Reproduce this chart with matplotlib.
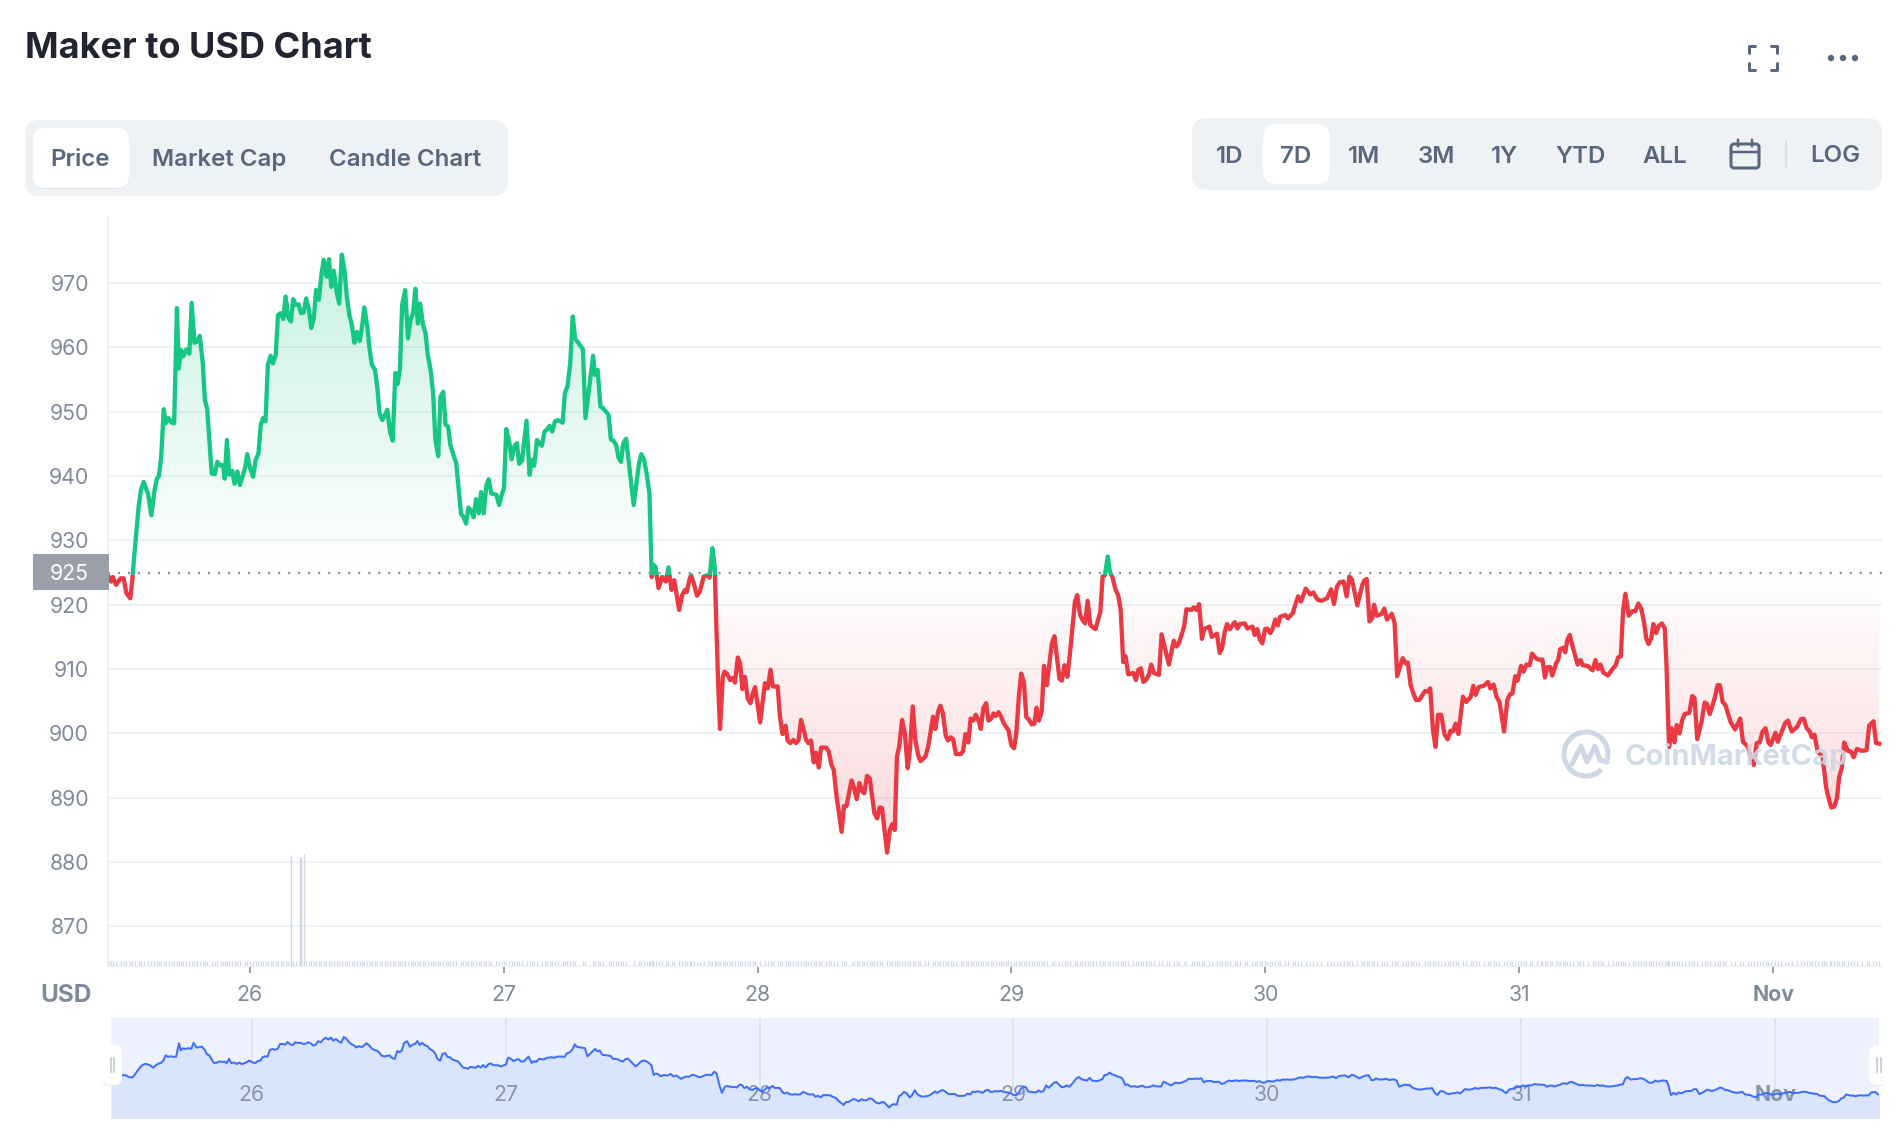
import numpy as np
import matplotlib
matplotlib.use("Agg")
import matplotlib.pyplot as plt
from matplotlib.patches import FancyBboxPatch, Rectangle, Arc, Circle
from matplotlib.colors import LinearSegmentedColormap

plt.rcParams['font.family'] = ['Inter', 'DejaVu Sans']

# day of month (32 = 1 Nov), price in USD
price_days = [
    25.446, 25.454, 25.461, 25.473, 25.491, 25.503, 25.514, 25.529, 25.536, 25.548, 25.562, 25.571, 25.582, 25.600, 25.612, 25.624,
    25.634, 25.642, 25.651, 25.661, 25.669, 25.680, 25.692, 25.702, 25.713, 25.720, 25.729, 25.738, 25.750, 25.762, 25.771, 25.782,
    25.793, 25.803, 25.815, 25.823, 25.832, 25.850, 25.862, 25.872, 25.886, 25.895, 25.901, 25.910, 25.919, 25.931, 25.940, 25.951,
    25.961, 25.981, 25.990, 26.001, 26.013, 26.023, 26.034, 26.043, 26.052, 26.062, 26.071, 26.082, 26.091, 26.102, 26.111, 26.121,
    26.132, 26.141, 26.151, 26.162, 26.171, 26.181, 26.192, 26.202, 26.212, 26.222, 26.233, 26.242, 26.252, 26.261, 26.272, 26.281,
    26.291, 26.302, 26.312, 26.321, 26.331, 26.343, 26.352, 26.362, 26.373, 26.382, 26.392, 26.401, 26.412, 26.422, 26.433, 26.442,
    26.451, 26.463, 26.472, 26.481, 26.493, 26.502, 26.511, 26.522, 26.532, 26.542, 26.552, 26.563, 26.573, 26.582, 26.591, 26.600,
    26.612, 26.623, 26.633, 26.643, 26.652, 26.662, 26.671, 26.682, 26.692, 26.701, 26.712, 26.722, 26.731, 26.742, 26.751, 26.762,
    26.771, 26.781, 26.790, 26.802, 26.813, 26.832, 26.841, 26.852, 26.861, 26.872, 26.881, 26.891, 26.902, 26.911, 26.921, 26.932,
    26.941, 26.951, 26.971, 26.982, 26.992, 27.001, 27.010, 27.022, 27.031, 27.042, 27.052, 27.061, 27.072, 27.090, 27.102, 27.111,
    27.120, 27.131, 27.150, 27.161, 27.170, 27.181, 27.191, 27.202, 27.212, 27.232, 27.241, 27.251, 27.262, 27.272, 27.281, 27.312,
    27.322, 27.352, 27.360, 27.370, 27.381, 27.393, 27.413, 27.422, 27.432, 27.443, 27.452, 27.462, 27.471, 27.482, 27.512, 27.533,
    27.542, 27.553, 27.563, 27.574, 27.578, 27.583, 27.589, 27.598, 27.610, 27.624, 27.639, 27.649, 27.661, 27.672, 27.691, 27.703,
    27.714, 27.721, 27.733, 27.738, 27.749, 27.761, 27.772, 27.788, 27.803, 27.811, 27.822, 27.831, 27.838, 27.845, 27.852, 27.863,
    27.870, 27.881, 27.892, 27.901, 27.911, 27.922, 27.931, 27.940, 27.950, 27.961, 27.972, 27.981, 27.990, 28.010, 28.029, 28.040,
    28.051, 28.060, 28.079, 28.088, 28.098, 28.110, 28.118, 28.129, 28.141, 28.151, 28.161, 28.171, 28.182, 28.191, 28.200, 28.210,
    28.221, 28.230, 28.241, 28.250, 28.270, 28.280, 28.291, 28.300, 28.311, 28.331, 28.340, 28.350, 28.370, 28.379, 28.390, 28.401,
    28.412, 28.420, 28.431, 28.442, 28.451, 28.460, 28.471, 28.481, 28.490, 28.510, 28.521, 28.530, 28.540, 28.549, 28.558, 28.569,
    28.580, 28.591, 28.600, 28.611, 28.621, 28.632, 28.641, 28.661, 28.672, 28.691, 28.700, 28.711, 28.720, 28.730, 28.741, 28.750,
    28.761, 28.770, 28.781, 28.800, 28.809, 28.819, 28.830, 28.839, 28.850, 28.859, 28.870, 28.879, 28.889, 28.900, 28.909, 28.920,
    28.929, 28.938, 28.949, 28.959, 28.968, 28.979, 28.988, 28.999, 29.010, 29.019, 29.029, 29.038, 29.049, 29.058, 29.069, 29.080,
    29.090, 29.099, 29.108, 29.119, 29.128, 29.139, 29.159, 29.169, 29.189, 29.198, 29.209, 29.220, 29.229, 29.250, 29.259, 29.270,
    29.279, 29.290, 29.300, 29.310, 29.320, 29.331, 29.350, 29.359, 29.368, 29.379, 29.388, 29.399, 29.410, 29.420, 29.430, 29.440,
    29.449, 29.460, 29.480, 29.490, 29.500, 29.510, 29.519, 29.530, 29.541, 29.550, 29.561, 29.581, 29.591, 29.611, 29.620, 29.639,
    29.650, 29.659, 29.680, 29.689, 29.709, 29.718, 29.729, 29.739, 29.750, 29.759, 29.779, 29.789, 29.809, 29.820, 29.829, 29.840,
    29.849, 29.860, 29.879, 29.890, 29.899, 29.918, 29.929, 29.949, 29.958, 29.968, 29.979, 29.988, 29.999, 30.008, 30.019, 30.028,
    30.039, 30.049, 30.058, 30.078, 30.089, 30.108, 30.118, 30.129, 30.140, 30.159, 30.177, 30.189, 30.205, 30.220, 30.243, 30.259,
    30.270, 30.282, 30.293, 30.308, 30.320, 30.331, 30.341, 30.362, 30.382, 30.390, 30.399, 30.410, 30.421, 30.428, 30.439, 30.459,
    30.468, 30.479, 30.498, 30.509, 30.519, 30.541, 30.552, 30.561, 30.572, 30.583, 30.593, 30.606, 30.629, 30.640, 30.649, 30.660,
    30.670, 30.680, 30.692, 30.706, 30.718, 30.729, 30.738, 30.749, 30.760, 30.778, 30.791, 30.809, 30.819, 30.828, 30.840, 30.860,
    30.877, 30.886, 30.899, 30.910, 30.922, 30.940, 30.953, 30.964, 30.973, 30.984, 30.993, 31.007, 31.017, 31.028, 31.041, 31.050,
    31.068, 31.084, 31.091, 31.101, 31.111, 31.122, 31.130, 31.145, 31.153, 31.161, 31.173, 31.181, 31.189, 31.199, 31.210, 31.230,
    31.241, 31.250, 31.269, 31.289, 31.300, 31.310, 31.320, 31.330, 31.349, 31.369, 31.380, 31.389, 31.400, 31.409, 31.418, 31.431,
    31.446, 31.457, 31.469, 31.481, 31.492, 31.500, 31.509, 31.520, 31.528, 31.539, 31.549, 31.562, 31.573, 31.580, 31.585, 31.590,
    31.600, 31.611, 31.620, 31.631, 31.642, 31.651, 31.670, 31.681, 31.690, 31.701, 31.719, 31.730, 31.739, 31.750, 31.770, 31.781,
    31.790, 31.801, 31.812, 31.832, 31.850, 31.870, 31.881, 31.901, 31.912, 31.924, 31.935, 31.947, 31.958, 31.970, 31.981, 31.990,
    32.009, 32.018, 32.032, 32.047, 32.058, 32.073, 32.094, 32.109, 32.120, 32.132, 32.144, 32.152, 32.163, 32.175, 32.194, 32.202,
    32.209, 32.222, 32.229, 32.240, 32.251, 32.260, 32.270, 32.280, 32.294, 32.306, 32.317, 32.330, 32.348, 32.368, 32.378, 32.395,
    32.405, 32.418,
]
price_usd = [
    924.3, 923.6, 924.3, 923.1, 924.1, 924.1, 921.8, 921.0, 923.3, 929.0, 935.2, 937.8, 939.1, 937.1, 933.9, 937.6,
    939.6, 940.0, 943.0, 950.4, 948.2, 949.0, 948.3, 948.2, 966.1, 956.7, 959.6, 958.6, 959.7, 959.0, 966.9, 960.7,
    960.9, 961.8, 957.5, 951.8, 950.5, 940.4, 940.3, 942.2, 941.6, 941.7, 939.6, 945.6, 940.2, 940.8, 938.8, 940.7,
    938.6, 941.2, 943.4, 941.2, 939.9, 942.5, 943.5, 947.9, 949.0, 948.5, 957.3, 958.7, 957.5, 958.8, 965.0, 965.3,
    964.4, 967.9, 964.7, 964.0, 967.5, 966.6, 966.7, 965.3, 965.4, 967.6, 965.8, 963.0, 964.4, 968.9, 967.4, 971.0,
    973.6, 971.0, 973.7, 969.4, 971.9, 968.4, 966.8, 974.4, 972.0, 967.9, 965.0, 963.7, 960.7, 962.4, 961.0, 963.2,
    966.2, 963.2, 959.6, 957.3, 956.5, 953.9, 949.8, 948.7, 949.5, 950.3, 946.9, 945.5, 956.0, 954.3, 956.5, 966.6,
    968.9, 961.4, 964.3, 965.3, 969.1, 963.7, 966.8, 963.5, 962.2, 958.8, 956.5, 952.9, 945.6, 943.1, 952.3, 953.1,
    948.0, 947.7, 944.8, 943.3, 942.0, 934.1, 933.7, 932.6, 935.1, 934.6, 933.6, 936.4, 934.2, 937.5, 934.2, 938.6,
    939.5, 937.3, 937.1, 935.5, 937.1, 938.1, 947.3, 945.3, 942.6, 944.6, 945.1, 941.9, 942.4, 948.6, 940.2, 942.5,
    941.6, 945.6, 944.7, 946.9, 947.2, 947.8, 946.9, 948.5, 948.7, 948.3, 952.9, 953.9, 957.5, 964.8, 961.4, 959.7,
    949.0, 958.7, 955.7, 956.5, 950.8, 950.5, 949.5, 945.7, 945.5, 944.8, 942.9, 942.2, 945.1, 945.8, 935.5, 942.0,
    943.4, 942.5, 940.4, 937.3, 931.6, 924.3, 926.2, 925.9, 922.6, 924.3, 923.6, 925.8, 922.3, 923.8, 919.2, 921.5,
    922.3, 922.0, 924.1, 924.6, 923.3, 921.4, 922.0, 924.4, 924.6, 924.2, 928.8, 925.9, 916.1, 907.3, 900.7, 908.8,
    909.6, 909.2, 908.3, 908.6, 907.9, 911.8, 910.9, 906.9, 908.8, 905.4, 904.7, 906.2, 907.2, 901.7, 907.8, 907.0,
    909.9, 907.3, 907.3, 902.6, 899.9, 901.2, 898.9, 898.5, 899.0, 898.5, 898.9, 902.1, 900.5, 899.0, 898.5, 898.9,
    895.5, 897.0, 894.7, 897.8, 897.8, 897.2, 895.1, 894.3, 890.2, 884.7, 888.7, 888.7, 892.7, 891.7, 889.8, 892.3,
    891.0, 890.7, 893.4, 893.0, 890.2, 887.6, 886.8, 888.5, 888.4, 881.5, 885.0, 885.9, 885.0, 896.4, 898.0, 902.1,
    900.0, 894.6, 897.4, 904.2, 899.0, 896.7, 895.7, 896.4, 898.0, 902.6, 900.7, 903.4, 904.3, 903.1, 899.6, 898.9,
    899.4, 899.1, 896.8, 896.8, 897.2, 899.9, 898.6, 902.3, 902.0, 902.9, 902.0, 900.7, 903.9, 904.7, 902.0, 902.3,
    903.1, 902.7, 903.3, 902.6, 901.7, 901.0, 900.5, 898.2, 897.7, 900.0, 905.7, 909.3, 908.0, 902.6, 902.1, 901.4,
    901.5, 904.0, 902.0, 903.4, 910.5, 907.5, 914.0, 915.1, 908.5, 908.2, 910.6, 908.8, 911.9, 920.5, 921.5, 918.4,
    917.7, 917.1, 920.6, 916.9, 916.5, 916.2, 918.9, 924.4, 924.6, 927.5, 925.1, 924.1, 922.3, 921.5, 919.2, 911.1,
    912.0, 909.2, 909.4, 908.3, 909.9, 910.1, 908.0, 908.3, 909.1, 910.7, 909.4, 909.1, 915.4, 912.2, 910.7, 914.4,
    913.5, 914.0, 916.6, 919.3, 919.2, 919.6, 919.2, 920.1, 914.7, 916.2, 916.6, 915.0, 915.5, 912.5, 913.2, 915.8,
    917.0, 916.2, 917.3, 916.3, 917.0, 917.1, 916.3, 916.6, 915.3, 916.2, 914.5, 914.0, 916.2, 916.3, 915.6, 916.2,
    917.7, 916.8, 918.1, 918.4, 917.9, 918.7, 920.0, 921.3, 920.5, 922.5, 921.6, 921.9, 920.8, 920.6, 921.0, 922.4,
    920.1, 922.8, 923.5, 923.6, 921.3, 924.4, 923.9, 919.9, 923.1, 923.8, 924.0, 917.4, 917.9, 920.0, 918.3, 918.6,
    919.4, 917.7, 918.6, 917.1, 908.9, 911.7, 910.9, 911.0, 907.5, 906.2, 905.2, 905.2, 906.6, 906.5, 907.0, 900.5,
    897.9, 902.9, 902.9, 899.8, 899.1, 900.4, 900.3, 901.5, 899.9, 905.7, 904.9, 905.7, 907.4, 906.0, 907.2, 907.4,
    908.0, 907.0, 907.6, 905.7, 904.9, 900.3, 905.2, 906.1, 906.2, 908.9, 908.2, 910.5, 909.6, 910.7, 910.6, 912.4,
    911.6, 911.4, 911.5, 908.7, 910.3, 910.3, 909.0, 910.9, 911.4, 913.1, 913.3, 912.6, 914.5, 915.3, 913.5, 910.7,
    911.4, 910.6, 910.5, 909.8, 911.4, 910.0, 910.7, 909.5, 909.0, 910.1, 910.6, 911.8, 912.0, 919.2, 921.7, 918.3,
    919.0, 919.0, 920.2, 919.3, 917.1, 914.8, 913.9, 914.8, 917.0, 915.6, 916.7, 917.1, 916.3, 910.4, 903.6, 897.9,
    900.8, 898.6, 901.3, 900.0, 902.1, 903.0, 903.2, 905.8, 905.5, 899.1, 902.0, 904.8, 904.6, 903.0, 905.5, 907.5,
    907.5, 904.9, 904.4, 901.8, 900.6, 902.3, 898.7, 897.9, 896.1, 895.1, 898.5, 898.6, 900.3, 900.8, 898.6, 898.2,
    900.1, 898.7, 900.1, 901.6, 902.0, 900.3, 901.0, 902.2, 902.3, 900.8, 900.3, 899.4, 899.8, 897.2, 896.4, 893.8,
    891.5, 889.4, 888.5, 888.6, 889.9, 893.3, 894.6, 898.6, 897.3, 897.2, 896.3, 897.6, 897.3, 897.4, 901.2, 901.9,
    898.5, 898.4,
]

# the few volume bars that stand out, rest are a flat sliver along the bottom
spike_days = [26.163, 26.197, 26.203, 26.215]
spike_volumes = [14.8, 14.5, 14.6, 15.0]
base_volume = 0.7

base_price = 925
y_ticks = [870, 880, 890, 900, 910, 920, 930, 940, 950, 960, 970]
x_ticks = [26, 27, 28, 29, 30, 31, 32]
x_labels = ['26', '27', '28', '29', '30', '31', 'Nov']
tabs = ['Price', 'Market Cap', 'Candle Chart']
ranges = ['1D', '7D', '1M', '3M', '1Y', 'YTD', 'ALL']

W, H = 1904, 1136
GREEN = '#16C784'
RED = '#EA3943'
GRID = '#EFF2F5'
LABEL = '#808A9D'
SLATE = '#58667E'
PX = 0.72  # one pixel in points at dpi 100


def px_axes(x0, y0, x1, y1, **kw):
    return fig.add_axes([x0 / W, 1 - y1 / H, (x1 - x0) / W, (y1 - y0) / H], **kw)


def round_box(ax, x0, y0, x1, y1, r, color, **kw):
    ax.add_patch(FancyBboxPatch((x0, y0), x1 - x0, y1 - y0, boxstyle=f'round,pad=0,rounding_size={r}',
                                fc=color, ec='none', **kw))


fig = plt.figure(figsize=(W / 100, H / 100), dpi=100, facecolor='white')
days = np.array(price_days)
usd = np.array(price_usd)

# main chart
ax = px_axes(108, 218, 1882, 966)
ax.set_xlim(25.4415, 32.4286)
ax.set_ylim(863.86, 980.1)
for s in ['top', 'right']:
    ax.spines[s].set_visible(False)
for s in ['left', 'bottom']:
    ax.spines[s].set_color(GRID)
    ax.spines[s].set_linewidth(2 * PX)
ax.set_yticks(y_ticks)
ax.set_xticks(x_ticks)
ax.set_xticklabels(x_labels)
ax.get_xticklabels()[-1].set_fontweight('bold')
ax.tick_params(axis='y', length=0, pad=19 * PX, labelcolor=LABEL, labelsize=15.3)
ax.tick_params(axis='x', length=7 * PX, width=1.6 * PX, color=LABEL, pad=12 * PX, labelcolor=LABEL, labelsize=15.3)
ax.grid(axis='y', color=GRID, lw=2 * PX, zorder=0)
ax.set_axisbelow(True)

# gradient fills, both clipped to the area between the line and the base price
area = ax.fill_between(days, usd, base_price, color='none', lw=0)
clip = area.get_paths()[0]
fade_g = LinearSegmentedColormap.from_list('g', [(0.086, 0.78, 0.52, 0.0), (0.086, 0.78, 0.52, 0.24)])
fade_r = LinearSegmentedColormap.from_list('r', [(0.92, 0.22, 0.26, 0.21), (0.92, 0.22, 0.26, 0.0)])
grad = np.linspace(0, 1, 256).reshape(-1, 1)
for cmap, top, bottom in [(fade_g, 975, base_price), (fade_r, base_price, 880)]:
    im = ax.imshow(grad, origin='lower', aspect='auto', cmap=cmap, zorder=1,
                   extent=[days[0], days[-1], bottom, top], interpolation='bilinear')
    im.set_clip_path(clip, ax.transData)
ax.set_xlim(25.4415, 32.4286)
ax.set_ylim(863.86, 980.1)

# line changes colour where it crosses the base price
split = 924.6
for color, lo, hi in [(GREEN, split, 990), (RED, 850, split)]:
    line, = ax.plot(days, usd, color=color, lw=4.3 * PX, zorder=3, solid_joinstyle='round')
    line.set_clip_path(Rectangle((25, lo), 8, hi - lo, transform=ax.transData))
ax.axhline(base_price, color=LABEL, lw=2.2 * PX, dashes=(0.9, 3.65), zorder=4)

# volume on its own hidden scale
vol = ax.twinx()
vol.set_ylim(0, 100)
vol.axis('off')
vol.vlines(days, 0.2, base_volume, color='#CFD6E4', lw=1.2 * PX)
vol.vlines(spike_days, 0.2, spike_volumes, color='#CFD6E4', lw=1.3 * PX)

# navigator strip, same series on a squashed scale
mini = px_axes(111, 1018, 1879, 1118)
mini.set_xlim(25.4455, 32.409)
mini.set_ylim(867.6, 999.5)
mini.set_facecolor('#EEF2FE')
for s in mini.spines.values():
    s.set_visible(False)
mini.set_xticks([])
mini.set_yticks([])
mini.fill_between(days, usd, 860, color='#DAE4FD', lw=0, zorder=1)
for t, lab in zip(x_ticks, x_labels):
    mini.axvline(t, color='#DDE3F7', lw=2 * PX, zorder=2)
    mini.text(t, 0.23, lab, color=LABEL, fontsize=15.3, ha='center', va='center', zorder=2, alpha=0.9,
              transform=mini.get_xaxis_transform(), fontweight='bold' if lab == 'Nov' else 'normal')
mini.plot(days, usd, color='#3D6EFF', lw=2 * PX, zorder=3)

# page furniture drawn in pixel coordinates
ui = fig.add_axes([0, 0, 1, 1], zorder=5)
ui.set_xlim(0, W)
ui.set_ylim(H, 0)
ui.axis('off')
ui.patch.set_alpha(0)

ui.text(25, 49, 'Maker to USD Chart', fontsize=26, fontweight='bold', color='#222531', va='center')

round_box(ui, 25, 120, 508, 196, 15, GRID)
round_box(ui, 33, 129, 129, 189, 12, '#E3E6EB')
round_box(ui, 33, 128, 129, 188, 12, 'white')
for lab, cx in zip(tabs, [80, 219, 405]):
    ui.text(cx, 160, lab, fontsize=17.3, fontweight='semibold', color=SLATE, ha='center', va='center')

round_box(ui, 1192, 118, 1882, 190, 15, GRID)
round_box(ui, 1263, 124, 1330, 184, 14, 'white')
for lab, cx in zip(ranges, [1230, 1296, 1364, 1436, 1504, 1581, 1665]):
    ui.text(cx, 157, lab, fontsize=17.3, fontweight='semibold', color=SLATE, ha='center', va='center')
ui.text(1835.5, 156, 'LOG', fontsize=17.3, fontweight='semibold', color=SLATE, ha='center', va='center')
ui.plot([1786, 1786], [142, 167], color='#CFD6E4', lw=1.5 * PX)

# calendar icon
ui.add_patch(FancyBboxPatch((1731, 144), 28, 24, boxstyle='round,pad=0,rounding_size=3', fc='none', ec=SLATE, lw=3 * PX))
ui.plot([1731, 1759], [152, 152], color=SLATE, lw=2.5 * PX)
ui.plot([1738, 1738], [140, 146], color=SLATE, lw=2.5 * PX)
ui.plot([1752, 1752], [140, 146], color=SLATE, lw=2.5 * PX)

# fullscreen icon
for x, y, dx, dy in [(1749, 46, 1, 1), (1777, 46, -1, 1), (1749, 70, 1, -1), (1777, 70, -1, -1)]:
    ui.plot([x + 6 * dx, x, x], [y, y, y + 7 * dy], color=SLATE, lw=3 * PX, solid_capstyle='round', solid_joinstyle='round')
for cx in [1831, 1843, 1855]:
    ui.add_patch(Circle((cx, 58), 3.2, fc=SLATE, ec='none'))

# current price tag
ui.add_patch(Rectangle((33, 554), 76, 36, fc='#9A9FAB', ec='none'))
ui.text(69, 573.5, str(base_price), color='white', fontsize=15.3, ha='center', va='center')
ui.text(92, 996, 'USD', color=LABEL, fontsize=17.5, fontweight='bold', ha='right', va='center')

# watermark
mark = '#CFD7E6'
ui.add_patch(Arc((1586, 754), 44, 44, theta1=45, theta2=375, ec=mark, lw=5 * PX))
ui.plot([1572, 1581, 1587, 1595, 1600, 1607], [764, 746, 762, 746, 760, 762], color=mark, lw=5 * PX,
        solid_joinstyle='round', solid_capstyle='round')
ui.text(1625, 757, 'CoinMarketCap', color=mark, fontsize=21, fontweight='bold', va='center', alpha=0.9)

# navigator handles
box = Rectangle((0, 0), 1883, H, transform=ui.transData)
round_box(ui, 101, 1046, 122, 1086, 8, '#E8EAEE')
round_box(ui, 101, 1045, 122, 1085, 8, 'white')
for x in [110.5, 114]:
    ui.plot([x, x], [1058, 1072], color='#BFC6D4', lw=1.6 * PX)
for y0, col in [(1046, '#E8EAEE'), (1045, 'white')]:
    p = FancyBboxPatch((1869, y0), 21, 40, boxstyle='round,pad=0,rounding_size=8', fc=col, ec='none')
    ui.add_patch(p)
    p.set_clip_path(box)
for x in [1877, 1880.5]:
    ui.plot([x, x], [1058, 1072], color='#BFC6D4', lw=1.6 * PX)

fig.savefig('out.png', dpi=100)
